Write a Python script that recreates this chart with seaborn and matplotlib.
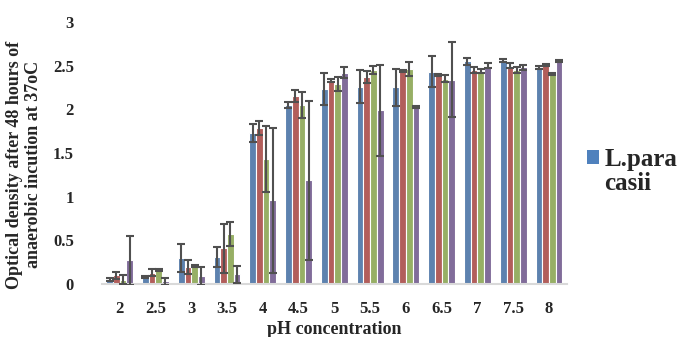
import matplotlib
matplotlib.use("Agg")
import matplotlib.pyplot as plt
import seaborn as sns
import pandas as pd
import numpy as np
from matplotlib.patches import Patch

ph = ["2", "2.5", "3", "3.5", "4", "4.5", "5", "5.5", "6", "6.5", "7", "7.5", "8"]
series_names = ["L.para casii", "Series 2", "Series 3", "Series 4"]

blue = [0.05, 0.08, 0.30, 0.31, 1.73, 2.05, 2.23, 2.26, 2.25, 2.43, 2.55, 2.56, 2.48]
blue_err = [0.02, 0.01, 0.16, 0.12, 0.10, 0.03, 0.18, 0.19, 0.21, 0.18, 0.04, 0.02, 0.02]
red = [0.10, 0.13, 0.19, 0.41, 1.79, 2.15, 2.33, 2.37, 2.44, 2.39, 2.45, 2.50, 2.51]
red_err = [0.04, 0.04, 0.08, 0.28, 0.08, 0.07, 0.02, 0.07, 0.01, 0.01, 0.03, 0.03, 0.01]
green = [0.05, 0.16, 0.21, 0.575, 1.43, 2.05, 2.29, 2.45, 2.46, 2.35, 2.44, 2.45, 2.40]
green_err = [0.05, 0.01, 0.01, 0.14, 0.38, 0.15, 0.08, 0.05, 0.08, 0.04, 0.02, 0.03, 0.01]
purple = [0.27, 0.03, 0.09, 0.11, 0.96, 1.19, 2.42, 1.99, 2.03, 2.34, 2.50, 2.48, 2.55]
purple_err = [0.28, 0.04, 0.10, 0.10, 0.83, 0.91, 0.06, 0.52, 0.01, 0.43, 0.03, 0.03, 0.01]

colors = ["#4F81BD", "#C0504D", "#9BBB59", "#8064A2"]

values = [blue, red, green, purple]
errors = [blue_err, red_err, green_err, purple_err]

rows = []
for name, vals in zip(series_names, values):
    for p, v in zip(ph, vals):
        rows.append({"pH": p, "series": name, "od": v})
df = pd.DataFrame(rows)

sns.set_style("white")
plt.rcParams["font.family"] = ["Liberation Serif", "DejaVu Serif"]
plt.rcParams["font.weight"] = "bold"

fig = plt.figure(figsize=(6.83, 3.37), dpi=100)
ax = fig.add_axes([0.149, 0.157, 0.681, 0.778])

sns.barplot(data=df, x="pH", y="od", hue="series", order=ph, hue_order=series_names,
            palette=colors, width=0.75, errorbar=None, edgecolor="white",
            linewidth=0.8, legend=False, ax=ax)

for cont, errs in zip(ax.containers, errors):
    xs = [b.get_x() + b.get_width() / 2 for b in cont]
    hs = [b.get_height() for b in cont]
    ax.errorbar(xs, hs, yerr=errs, fmt="none", ecolor="#505050",
                elinewidth=1.5, capsize=3, capthick=1.5, zorder=5)

ax.set_ylim(0, 3)
ax.set_xlim(-0.5, len(ph) - 0.5)
ax.set_yticks(np.arange(0, 3.01, 0.5))
ax.set_yticklabels(["0", "0.5", "1", "1.5", "2", "2.5", "3"])
for s in ["top", "right", "left"]:
    ax.spines[s].set_visible(False)
ax.spines["bottom"].set_color("#D9D9D9")
ax.spines["bottom"].set_linewidth(1.5)
ax.tick_params(axis="y", length=0, pad=20, labelsize=12)
ax.tick_params(axis="x", length=0, pad=12, labelsize=12)
for lab in ax.get_xticklabels() + ax.get_yticklabels():
    lab.set_fontweight("bold")

ax.set_xlabel("pH concentration", fontsize=13, fontweight="bold", labelpad=3)
ax.set_ylabel("Optical density after 48 hours of\nanaerobic incution at 37oC",
              fontsize=13, fontweight="bold", linespacing=1.15)
ax.yaxis.set_label_coords(-0.129, 0.455)

handles = [Patch(facecolor=colors[0], edgecolor="none"),
           Patch(facecolor="none", edgecolor="none")]
fig.legend(handles, ["L.para", "casii"], loc="center left",
           bbox_to_anchor=(0.859, 0.49), frameon=False,
           prop={"family": "Liberation Serif", "weight": "bold", "size": 18},
           handlelength=0.5, handleheight=0.5, handletextpad=0.2,
           labelspacing=0.05, borderaxespad=0, borderpad=0)

fig.savefig("out.png", dpi=100)
